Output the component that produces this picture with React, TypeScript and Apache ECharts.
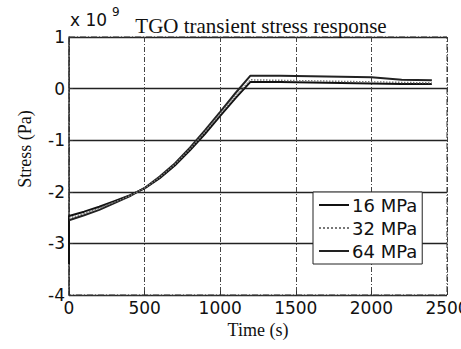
import React, { useEffect, useRef } from "react";
import * as echarts from "echarts";

const timeS = [0, 100, 200, 300, 400, 500, 600, 700, 800, 900, 1000, 1100, 1200, 1400, 1600, 1800, 2000, 2200, 2400];
const stress16 = [-2.47, -2.385, -2.29, -2.18, -2.07, -1.935, -1.735, -1.49, -1.195, -0.875, -0.53, -0.19, 0.13, 0.13, 0.12, 0.11, 0.1, 0.09, 0.09];
const stress32 = [-2.51, -2.42, -2.32, -2.2, -2.08, -1.93, -1.72, -1.47, -1.17, -0.84, -0.49, -0.15, 0.17, 0.16, 0.15, 0.14, 0.13, 0.12, 0.11];
const stress64 = [-2.55, -2.455, -2.35, -2.22, -2.09, -1.925, -1.705, -1.45, -1.145, -0.805, -0.45, -0.09, 0.25, 0.25, 0.24, 0.23, 0.22, 0.17, 0.16];
const startDrop = -3.4;
const seriesNames = ["16 MPa", "32 MPa", "64 MPa"];
const xTicks = [0, 500, 1000, 1500, 2000, 2500];
const yTicks = [-4, -3, -2, -1, 0, 1];

const pairs = (vals: number[]) => timeS.map((t, i) => [t, vals[i]]);

export default function App() {
  const ref = useRef<HTMLDivElement>(null);
  useEffect(() => {
    if (!ref.current) return;
    const chart = echarts.init(ref.current, null, { renderer: "svg" });
    const sans = "DejaVu Sans";
    const serif = "Liberation Serif";
    chart.setOption({
      animation: false,
      backgroundColor: "#fff",
      title: {
        text: "TGO transient stress response",
        left: 256,
        top: 10,
        textAlign: "center",
        textStyle: { fontFamily: serif, fontSize: 21, fontWeight: "normal", color: "#111" },
      },
      grid: { left: 69, right: 14, top: 37, bottom: 54, show: false, outerBoundsMode: "none" },
      legend: {
        orient: "vertical",
        left: 313,
        top: 192,
        padding: [4, 5, 4, 5],
        itemGap: 5,
        itemWidth: 30,
        itemHeight: 20,
        backgroundColor: "#fff",
        borderColor: "#222",
        borderWidth: 1,
        borderRadius: 0,
        itemStyle: { opacity: 0 },
        data: seriesNames,
        textStyle: { fontFamily: sans, fontSize: 18, color: "#111", padding: [0, 0, 0, -2] },
      },
      xAxis: {
        type: "value",
        min: xTicks[0],
        max: xTicks[xTicks.length - 1],
        interval: 500,
        name: "Time (s)",
        nameLocation: "middle",
        nameGap: 24,
        nameTextStyle: { fontFamily: serif, fontSize: 18, color: "#111", verticalAlign: "top" },
        axisLine: { show: true, onZero: false, lineStyle: { color: "#333", width: 1, type: "dashed" } },
        axisTick: { show: true, inside: true, length: 4, lineStyle: { color: "#333" } },
        axisLabel: {
          fontFamily: sans,
          fontSize: 17,
          color: "#111",
          margin: 4,
          showMaxLabel: true,
          alignMaxLabel: "center",
          hideOverlap: false,
          formatter: (v: number) => String(v),
        },
        splitLine: { show: true, lineStyle: { color: "#444", width: 1, type: [5, 2, 1, 2] } },
      },
      yAxis: {
        type: "value",
        min: yTicks[0],
        max: yTicks[yTicks.length - 1],
        interval: 1,
        axisLine: { show: true, onZero: false, lineStyle: { color: "#333", width: 1.5 } },
        axisTick: { show: true, inside: true, length: 4, lineStyle: { color: "#333" } },
        axisLabel: { fontFamily: sans, fontSize: 17, color: "#111", margin: 4, formatter: (v: number) => String(v) },
        splitLine: { show: true, lineStyle: { color: "#222", width: 1.3, type: "solid" } },
      },
      graphic: [
        {
          type: "rect",
          shape: { x: 69, y: 37, width: 378, height: 258 },
          style: { fill: "none", stroke: "#333", lineWidth: 1, lineDash: [6, 2, 1, 2] },
          silent: true,
          z: 1,
        },
        {
          type: "text",
          x: 25,
          y: 149,
          rotation: Math.PI / 2,
          style: {
            text: "Stress (Pa)",
            fontFamily: serif,
            fontSize: 18,
            fill: "#111",
            align: "center",
            verticalAlign: "middle",
          },
        },
        {
          type: "text",
          left: 70,
          top: 11,
          style: { text: "x 10", fontFamily: sans, fontSize: 17, fill: "#111" },
        },
        {
          type: "text",
          left: 112,
          top: 6,
          style: { text: "9", fontFamily: sans, fontSize: 12, fill: "#111" },
        },
      ],
      series: [
        {
          name: seriesNames[0],
          type: "line",
          symbol: "none",
          data: [[0, startDrop], ...pairs(stress16)],
          lineStyle: { color: "#111", width: 2 },
          itemStyle: { color: "#111" },
          z: 3,
        },
        {
          name: seriesNames[1],
          type: "line",
          symbol: "none",
          data: pairs(stress32),
          lineStyle: { color: "#777", width: 1.5, type: "dotted" },
          itemStyle: { color: "#777" },
          z: 4,
        },
        {
          name: seriesNames[2],
          type: "line",
          symbol: "none",
          data: pairs(stress64),
          lineStyle: { color: "#222", width: 2 },
          itemStyle: { color: "#222" },
          z: 3,
        },
      ],
    });
    return () => chart.dispose();
  }, []);
  return (
    <div
      ref={ref}
      style={{ position: "fixed", left: 0, top: 0, width: 461, height: 349 }}
    />
  );
}
